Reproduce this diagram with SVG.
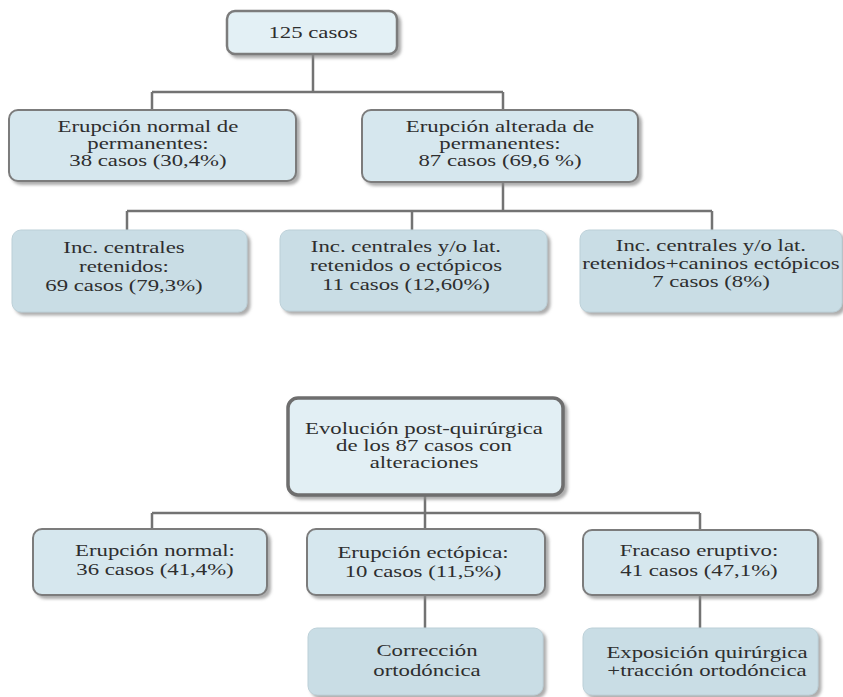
<svg xmlns="http://www.w3.org/2000/svg" width="843" height="697" viewBox="0 0 843 697">
<defs>
<filter id="sh" x="-10%" y="-10%" width="125%" height="135%">
<feGaussianBlur in="SourceAlpha" stdDeviation="1.5"/>
<feOffset dx="3" dy="3" result="b"/>
<feFlood flood-color="#8a8a8a" flood-opacity="0.7"/>
<feComposite in2="b" operator="in"/>
<feMerge><feMergeNode/><feMergeNode in="SourceGraphic"/></feMerge>
</filter>
</defs>
<style>
.b1{fill:#d6e7ee;stroke:#7c7c7c;stroke-width:2;filter:url(#sh)}
.b0{fill:#e3f0f5;stroke:#7c7c7c;stroke-width:2.5;filter:url(#sh)}
.b3{fill:#e2eff4;stroke:#6e6e6e;stroke-width:3.5;filter:url(#sh)}
.b2{fill:#c9dde5;stroke:#bcd0d8;stroke-width:1;filter:url(#sh)}
.t{font-family:"Liberation Serif","Times New Roman",serif;font-size:17px;fill:#2e2e2e;text-anchor:middle;transform-box:fill-box;transform-origin:center;transform:scaleX(1.34)}
.c{stroke:#737373;stroke-width:2.5;fill:none}
</style>
<rect width="843" height="697" fill="#ffffff"/>
<g id="connectors">
<path class="c" d="M313 54V92M152 92H503M152 92V110M503 92V110"/>
<path class="c" d="M503 182V211M127 211H712M127 211V230M412 211V230M712 211V230"/>
<path class="c" d="M425 495V513M152 513H700M152 513V529M425 513V529M700 513V530"/>
<path class="c" d="M425 595V628M700 595V628"/>
</g>
<g id="n0"><rect class="b0" x="227" y="11" width="170" height="43" rx="8"/>
<text class="t" x="313" y="38">125 casos</text></g>
<g id="n1"><rect class="b1" x="9" y="110" width="287" height="71" rx="9"/>
<text class="t" x="148"><tspan x="148" y="132">Erupción normal de</tspan><tspan x="148" y="149">permanentes:</tspan><tspan x="148" y="166">38 casos (30,4%)</tspan></text></g>
<g id="n2"><rect class="b1" x="362" y="110" width="276" height="72" rx="9"/>
<text class="t" x="500"><tspan x="500" y="132">Erupción alterada de</tspan><tspan x="500" y="149">permanentes:</tspan><tspan x="500" y="166">87 casos (69,6 %)</tspan></text></g>
<g id="n3"><rect class="b2" x="12" y="230" width="235" height="82" rx="9"/>
<text class="t" x="124"><tspan x="124" y="253">Inc. centrales</tspan><tspan x="124" y="272">retenidos:</tspan><tspan x="124" y="291">69 casos (79,3%)</tspan></text></g>
<g id="n4"><rect class="b2" x="280" y="230" width="267" height="81" rx="9"/>
<text class="t" x="406"><tspan x="406" y="252">Inc. centrales y/o lat.</tspan><tspan x="406" y="271">retenidos o ectópicos</tspan><tspan x="406" y="290">11 casos (12,60%)</tspan></text></g>
<g id="n5"><rect class="b2" x="580" y="230" width="262" height="82" rx="9"/>
<text class="t" x="711"><tspan x="711" y="251">Inc. centrales y/o lat.</tspan><tspan x="711" y="269">retenidos+caninos ectópicos</tspan><tspan x="711" y="287">7 casos (8%)</tspan></text></g>
<g id="n6"><rect class="b3" x="288" y="398" width="275" height="97" rx="10"/>
<text class="t" x="424"><tspan x="424" y="434">Evolución post-quirúrgica</tspan><tspan x="424" y="451">de los 87 casos con</tspan><tspan x="424" y="468">alteraciones</tspan></text></g>
<g id="n7"><rect class="b1" x="33" y="529" width="234" height="66" rx="9"/>
<text class="t" x="155"><tspan x="155" y="556">Erupción normal:</tspan><tspan x="155" y="575">36 casos (41,4%)</tspan></text></g>
<g id="n8"><rect class="b1" x="307" y="529" width="238" height="66" rx="9"/>
<text class="t" x="423"><tspan x="423" y="558">Erupción ectópica:</tspan><tspan x="423" y="577">10 casos (11,5%)</tspan></text></g>
<g id="n9"><rect class="b1" x="583" y="530" width="235" height="65" rx="9"/>
<text class="t" x="699"><tspan x="699" y="556">Fracaso eruptivo:</tspan><tspan x="699" y="576">41 casos (47,1%)</tspan></text></g>
<g id="n10"><rect class="b2" x="308" y="628" width="235" height="67" rx="9"/>
<text class="t" x="427"><tspan x="427" y="656">Corrección</tspan><tspan x="427" y="676">ortodóncica</tspan></text></g>
<g id="n11"><rect class="b2" x="583" y="628" width="235" height="67" rx="9"/>
<text class="t" x="707"><tspan x="707" y="658">Exposición quirúrgica</tspan><tspan x="707" y="676">+tracción ortodóncica</tspan></text></g>
</svg>
